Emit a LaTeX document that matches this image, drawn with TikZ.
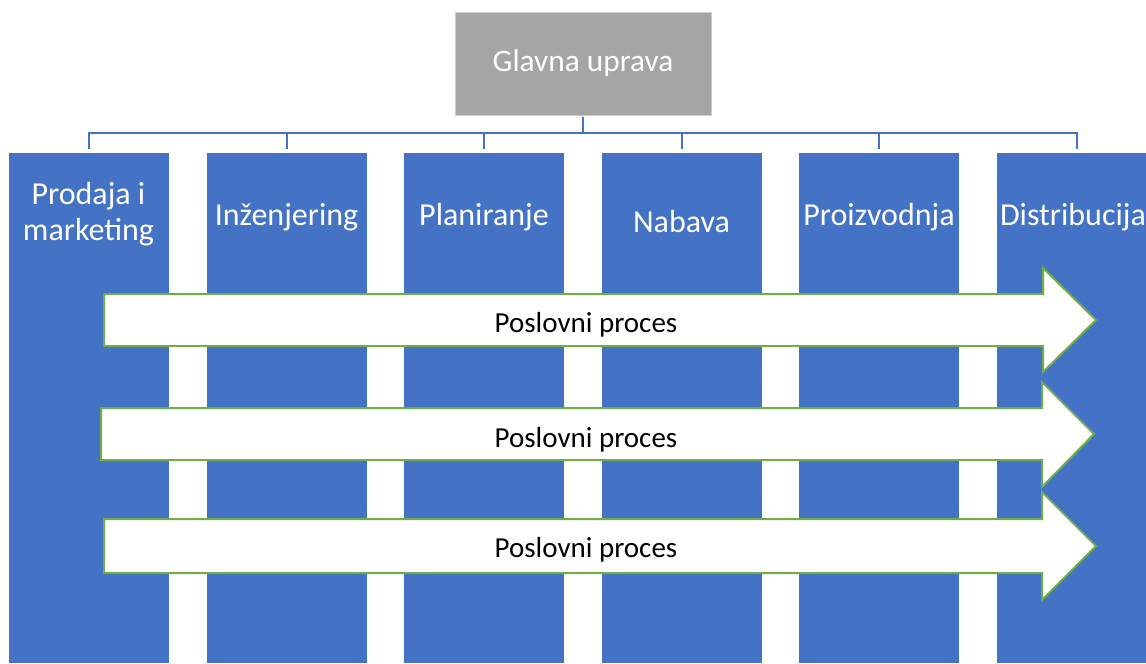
\documentclass[tikz,border=0pt]{standalone}
\usepackage{fontspec}
\setmainfont{Carlito}
\usepackage{tikz}
\definecolor{deptblue}{HTML}{4472C4}
\definecolor{hqgray}{HTML}{A5A5A5}
\definecolor{procgreen}{HTML}{70AD47}

\begin{document}
\begin{tikzpicture}[x=0.75pt,y=-0.75pt]
\tikzstyle{every node}+=[inner sep=0pt]
\tikzstyle{dept}=[fill=deptblue, draw=white, line width=0.5pt, minimum width=120.75pt, minimum height=383.25pt]
\tikzstyle{deptlabel}=[text=white, font=\fontsize{24}{27}\selectfont, align=center, anchor=base]
\tikzstyle{link}=[draw=deptblue, line width=1.5pt, shorten <=1.5pt, shorten >=2.25pt]
\tikzstyle{proc}=[fill=white, draw=procgreen, line width=1.5pt, line join=miter]
\tikzstyle{proclabel}=[text=black, font=\fontsize{21.75}{26}\selectfont, anchor=base]
\useasboundingbox (0,0) rectangle (1146,664);
% head office
\node [fill=hqgray, draw=black!20, line width=0.5pt, minimum width=192pt, minimum height=77.25pt,
  text=white, font=\fontsize{23.5}{27}\selectfont] (hq) at (583,63.5) {Glavna uprava};
% departments
\node [dept] (c1) at (88.5,407.5) {};
\node [dept] (c2) at (286.5,407.5) {};
\node [dept] (c3) at (484,407.5) {};
\node [dept] (c4) at (681.5,407.5) {};
\node [dept] (c5) at (879,407.5) {};
\node [dept] (c6) at (1076.5,407.5) {};
\node [deptlabel] (t1) at (88.5,240) {Prodaja i\\marketing};
\node [deptlabel] (t2) at (286.5,225) {Inženjering};
\node [deptlabel] (t3) at (484,225) {Planiranje};
\node [deptlabel] (t4) at (681.5,232) {Nabava};
\node [deptlabel] (t5) at (879,225) {Proizvodnja};
\node [deptlabel] (t6) at (1073,225) {Distribucija};
% tree lines
\draw [link] (hq.south) -- ++(0,18) -| (c1.north);
\draw [link] (hq.south) -- ++(0,18) -| (c2.north);
\draw [link] (hq.south) -- ++(0,18) -| (c3.north);
\draw [link] (hq.south) -- ++(0,18) -| (c4.north);
\draw [link] (hq.south) -- ++(0,18) -| (c5.north);
\draw [link] (hq.south) -- ++(0,18) -| (c6.north);
% process arrows
\draw [proc] (104,294) -- (1043,294) -- (1043,268) -- (1096,320) -- (1043,372) -- (1043,346) -- (104,346) -- cycle;
\node [proclabel] (p1) at (586,332) {Poslovni proces};
\draw [proc] (101,408) -- (1042,408) -- (1042,382) -- (1094,434) -- (1042,487) -- (1042,460) -- (101,460) -- cycle;
\node [proclabel] (p2) at (586,447) {Poslovni proces};
\draw [proc] (104,519) -- (1042,519) -- (1042,492) -- (1096,546) -- (1042,600) -- (1042,573) -- (104,573) -- cycle;
\node [proclabel] (p3) at (586,557) {Poslovni proces};
\end{tikzpicture}
\end{document}
